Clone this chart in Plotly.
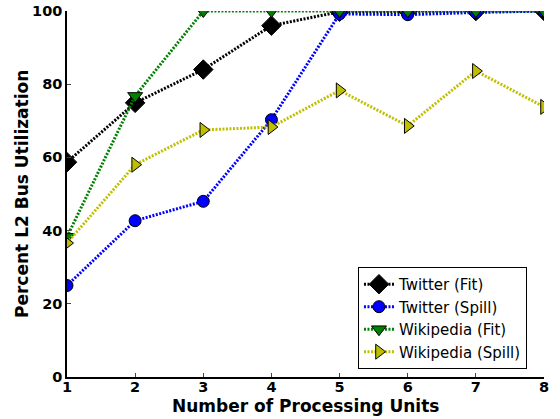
import plotly.graph_objects as go

units = [1, 2, 3, 4, 5, 6, 7, 8]
twitter_fit = [58.7, 74.9, 84.0, 96.0, 99.8, 100.0, 100.0, 100.0]
twitter_spill = [25.0, 42.7, 48.0, 70.3, 99.2, 99.0, 99.6, 100.0]
wiki_fit = [38.3, 76.8, 100.0, 100.0, 100.0, 100.0, 100.0, 100.0]
wiki_spill = [36.6, 58.0, 67.5, 68.3, 78.3, 68.6, 83.6, 73.8]
y_ticks = [0, 20, 40, 60, 80, 100]

series = [
    ("Twitter (Fit)", twitter_fit, "#000000", "diamond", 15),
    ("Twitter (Spill)", twitter_spill, "#0000ff", "circle", 12),
    ("Wikipedia (Fit)", wiki_fit, "#008000", "triangle-down", 13),
    ("Wikipedia (Spill)", wiki_spill, "#bfbf00", "triangle-right", 13),
]

fig = go.Figure()
for name, vals, color, sym, size in series:
    fig.add_trace(go.Scatter(
        x=units, y=vals, name=name, mode="lines+markers",
        line=dict(color=color, width=3, dash="2px,1.5px"),
        marker=dict(symbol=sym, size=size, color=color,
                    line=dict(color="#000000", width=1)),
        cliponaxis=True,
    ))

font_family = "DejaVu Sans"
fig.update_layout(
    width=560, height=419,
    margin=dict(l=67, r=16, t=11, b=42),
    paper_bgcolor="white", plot_bgcolor="white",
    font=dict(family=font_family, color="black"),
    showlegend=True,
    legend=dict(
        x=0.61, y=0.022, xanchor="left", yanchor="bottom",
        bordercolor="black", borderwidth=1, bgcolor="white",
        font=dict(size=15, family=font_family),
        tracegroupgap=0,
    ),
    annotations=[
        dict(text="<b>Number of Processing Units</b>", xref="paper", yref="paper",
             x=0.5, y=0, xanchor="center", yanchor="middle", yshift=-29,
             showarrow=False, font=dict(size=17, family=font_family)),
        dict(text="<b>Percent L2 Bus Utilization</b>", xref="paper", yref="paper",
             x=0, y=0.5, xanchor="center", yanchor="middle", xshift=-45, textangle=-90,
             showarrow=False, font=dict(size=17, family=font_family)),
    ],
)
fig.update_xaxes(
    range=[1, 8], tickvals=units, ticks="inside", ticklen=4,
    tickfont=dict(size=14.5, weight="bold", family=font_family),
    ticklabelstandoff=-4,
    showline=True, linecolor="black", linewidth=1.5,
    showgrid=False, zeroline=False, automargin=False,
)
fig.update_yaxes(
    range=[0, 100], tickvals=y_ticks, ticks="inside", ticklen=4,
    tickfont=dict(size=14.5, weight="bold", family=font_family),
    showline=True, linecolor="black", linewidth=1.5,
    showgrid=False, zeroline=False, automargin=False,
)
fig.write_html("out.html", config={"displayModeBar": False},
               post_script="document.body.style.margin='0';")
